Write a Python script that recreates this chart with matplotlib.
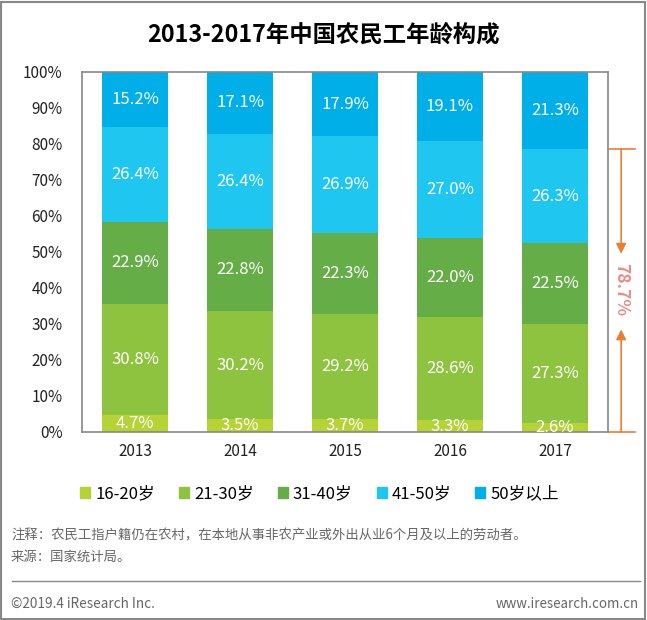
import matplotlib.pyplot as plt
from matplotlib.patches import Rectangle
from matplotlib.lines import Line2D

plt.rcParams['font.family'] = ['Noto Sans CJK SC', 'DejaVu Sans']

years = ["2013", "2014", "2015", "2016", "2017"]
groups = ["16-20岁", "21-30岁", "31-40岁", "41-50岁", "50岁以上"]
age_16_20 = [4.7, 3.5, 3.7, 3.3, 2.6]
age_21_30 = [30.8, 30.2, 29.2, 28.6, 27.3]
age_31_40 = [22.9, 22.8, 22.3, 22.0, 22.5]
age_41_50 = [26.4, 26.4, 26.9, 27.0, 26.3]
age_50_up = [15.2, 17.1, 17.9, 19.1, 21.3]
bracket_value = 78.7

colors = ["#b5d334", "#8dc33f", "#65ad47", "#1ec6f0", "#00aee8"]

W, H = 647, 620
fig = plt.figure(figsize=(W / 100, H / 100), dpi=100)
fig.patch.set_facecolor("white")

# plot box in pixels: x 82..608, y 72..432
ax = fig.add_axes([82 / W, (H - 432) / H, 526 / W, 360 / H])

series = [age_16_20, age_21_30, age_31_40, age_41_50, age_50_up]
x = list(range(len(years)))
bottom = [0.0] * len(years)
for vals, col in zip(series, colors):
    ax.bar(x, vals, width=0.63, bottom=bottom, color=col, edgecolor="none")
    for i, v in enumerate(vals):
        ax.text(i, bottom[i] + v / 2, f"{v:.1f}%", ha="center", va="center",
                color="white", fontsize=12)
    bottom = [b + v for b, v in zip(bottom, vals)]

ax.set_xlim(-0.505, 4.505)
ax.set_ylim(0, 100)
ax.set_yticks(range(0, 101, 10))
ax.set_yticklabels([f"{t}%" for t in range(0, 101, 10)])
ax.set_xticks(x)
ax.set_xticklabels(years)
ax.tick_params(length=0, labelsize=11, colors="#222222")
ax.tick_params(axis="y", pad=14)
ax.tick_params(axis="x", pad=8)
for s in ax.spines.values():
    s.set_color("#888888")
    s.set_linewidth(1.2)

# bracket on the right showing 41-50 and below share
tr = ax.get_yaxis_transform()
orange = "#ed7d31"
for yv in (0, bracket_value):
    ax.add_line(Line2D([1.0, 1.052], [yv, yv], transform=tr, color=orange,
                       lw=1.2, clip_on=False))
ax.annotate("", xy=(1.025, 49.5), xytext=(1.025, bracket_value), xycoords=tr,
            textcoords=tr, annotation_clip=False,
            arrowprops=dict(arrowstyle="-|>,head_length=0.6,head_width=0.3",
                            color=orange, lw=1.2, shrinkA=0, shrinkB=0))
ax.annotate("", xy=(1.025, 28.5), xytext=(1.025, 0), xycoords=tr,
            textcoords=tr, annotation_clip=False,
            arrowprops=dict(arrowstyle="-|>,head_length=0.6,head_width=0.3",
                            color=orange, lw=1.2, shrinkA=0, shrinkB=0))
ax.text(1.025, 39.5, f"{bracket_value}%", transform=tr, rotation=270,
        ha="center", va="center", color="#f08a8a", fontsize=12.5,
        fontweight="bold", clip_on=False)

# title
fig.text(0.5, 1 - 35 / H, "2013-2017年中国农民工年龄构成", ha="center",
         va="center", fontsize=16.8, fontweight="bold", color="black")

# legend
handles = [Rectangle((0, 0), 1, 1, color=c) for c in colors]
fig.legend(handles, groups, loc="center", bbox_to_anchor=(0.494, 1 - 494 / H),
           ncol=5, frameon=False, fontsize=12, handlelength=0.6,
           handleheight=0.6, handletextpad=0.3, columnspacing=1.45)

# notes and footer
fig.text(11 / W, 1 - 535 / H, "注释：农民工指户籍仍在农村，在本地从事非农产业或外出从业6个月及以上的劳动者。",
         ha="left", va="center", fontsize=9.6, color="#666666")
fig.text(11 / W, 1 - 557 / H, "来源：国家统计局。", ha="left", va="center",
         fontsize=9.6, color="#666666")
fig.add_artist(Line2D([12 / W, 640 / W], [1 - 581 / H, 1 - 581 / H],
                      color="#888888", lw=1))
fig.text(11 / W, 1 - 604 / H, "©2019.4 iResearch Inc.", ha="left", va="center",
         fontsize=9.8, color="#666666")
fig.text(639 / W, 1 - 604 / H, "www.iresearch.com.cn", ha="right", va="center",
         fontsize=9.6, color="#666666")

# outer border
fig.add_artist(Rectangle((1 / W, 1 / H), (W - 3) / W, (H - 3) / H,
                         transform=fig.transFigure, fill=False,
                         edgecolor="#888888", lw=1.5))

fig.savefig("out.png", dpi=100, facecolor="white")
